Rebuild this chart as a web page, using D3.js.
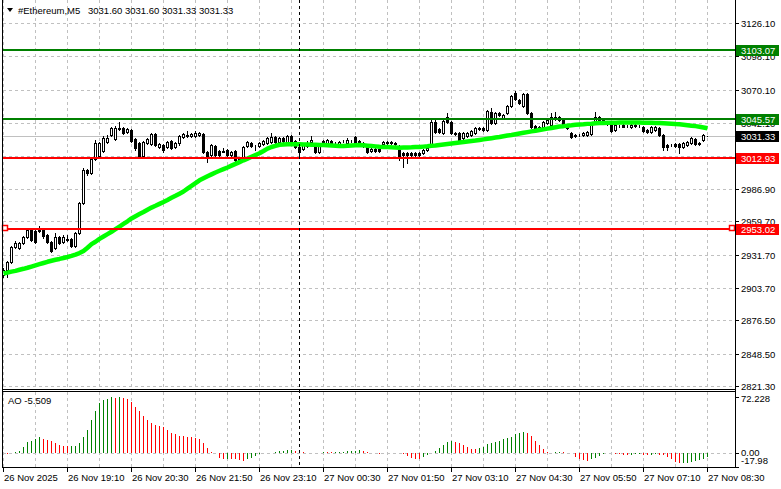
<!DOCTYPE html>
<html><head><meta charset="utf-8">
<script src="https://cdn.jsdelivr.net/npm/d3@7/dist/d3.min.js"></script>
<style>
html,body{margin:0;padding:0;background:#fff;overflow:hidden;}
svg{display:block;}
text{font-family:"Liberation Sans",Arial,sans-serif;font-size:9.5px;}
</style>
</head><body>
<svg id="chart" width="781" height="489"></svg>
<script>
// ---------------- DATA ----------------
const symbolName = "#Ethereum,M5";
const lastQuote = [3031.60, 3031.60, 3031.33, 3031.33];

const opens = [
2914.5,2918.7,2925.4,2938.0,2937.2,2941.4,2946.4,2952.3,2951.4,2951.4,
2952.3,2948.1,2942.2,2937.2,2946.4,2942.2,2944.3,2944.7,2938.9,2949.8,
2975.0,3002.7,3000.1,3011.9,3014.4,3018.6,3026.2,3032.1,3028.7,3037.9,
3037.9,3034.6,3036.2,3028.7,3025.3,3014.4,3025.3,3024.5,3032.9,3022.0,
3023.7,3022.0,3027.0,3022.0,3025.3,3030.4,3031.2,3031.2,3031.2,3032.1,
3032.9,3017.8,3015.3,3022.8,3018.6,3018.6,3019.5,3015.3,3018.6,3011.9,
3011.1,3022.8,3025.3,3022.8,3022.8,3024.5,3025.3,3026.2,3030.4,3026.2,
3029.5,3026.2,3031.2,3027.0,3022.0,3020.3,3022.8,3026.2,3022.0,3017.8,
3027.0,3024.5,3027.0,3025.3,3023.7,3027.0,3025.3,3027.0,3030.4,3027.0,
3025.3,3022.0,3018.6,3020.3,3020.3,3024.5,3025.3,3026.2,3025.3,3019.5,
3016.9,3016.9,3016.9,3016.9,3016.9,3016.9,3019.5,3024.5,3043.0,3037.1,
3033.7,3047.2,3043.0,3033.7,3033.7,3029.5,3031.2,3032.1,3033.7,3037.9,
3037.9,3036.2,3051.4,3042.1,3050.5,3046.3,3050.5,3056.4,3067.3,3061.4,
3056.4,3066.5,3050.5,3039.6,3038.8,3038.8,3042.1,3040.4,3047.2,3047.2,
3044.6,3040.4,3033.7,3032.1,3032.1,3032.1,3032.1,3032.9,3042.1,3047.2,
3044.6,3043.0,3041.3,3036.2,3039.6,3040.4,3039.6,3038.8,3040.4,3039.6,
3038.8,3036.2,3034.6,3036.2,3037.9,3032.1,3023.7,3023.7,3024.5,3024.5,
3022.0,3023.7,3025.3,3028.7,3025.3,3027.9,3031.60];

const highs = [
2920.4,2926.3,2938.9,2943.0,2942.2,2947.2,2954.0,2953.1,2952.3,2955.6,
2953.1,2948.9,2943.0,2949.8,2947.2,2948.1,2948.1,2945.6,2950.6,2975.8,
3004.3,3003.5,3013.6,3027.9,3026.2,3031.2,3032.1,3038.8,3039.6,3043.0,
3038.8,3037.9,3037.1,3029.5,3026.2,3027.0,3029.5,3033.7,3033.7,3025.3,
3024.5,3027.0,3027.9,3026.2,3032.1,3033.7,3035.4,3033.7,3035.4,3034.6,
3033.7,3018.6,3024.5,3023.7,3019.5,3021.1,3020.3,3018.6,3019.5,3012.7,
3022.8,3027.0,3026.2,3023.7,3026.2,3027.9,3030.4,3033.7,3031.2,3030.4,
3030.4,3032.1,3032.1,3027.9,3022.8,3024.5,3027.0,3031.2,3022.8,3023.7,
3027.9,3028.7,3027.9,3026.2,3027.0,3027.9,3029.5,3027.9,3031.2,3027.9,
3026.2,3022.8,3021.1,3021.1,3021.1,3027.0,3027.0,3027.0,3026.2,3023.7,
3017.8,3017.8,3017.8,3017.8,3017.8,3020.3,3022.0,3046.3,3044.6,3037.9,
3044.6,3050.5,3043.8,3034.6,3034.6,3034.6,3034.6,3036.2,3038.8,3038.8,
3038.8,3053.0,3054.7,3051.4,3051.4,3049.7,3057.2,3065.6,3069.0,3062.3,
3067.3,3067.3,3051.4,3040.4,3039.6,3043.8,3045.5,3050.5,3051.4,3048.0,
3045.5,3041.3,3034.6,3032.9,3032.9,3034.6,3035.4,3043.0,3051.4,3048.0,
3045.5,3043.8,3042.1,3041.3,3040.4,3041.3,3040.4,3041.3,3041.3,3040.4,
3039.6,3037.1,3039.6,3039.6,3038.8,3032.9,3024.5,3024.5,3025.3,3025.3,
3026.2,3027.0,3030.4,3029.5,3026.2,3032.9,3031.60];

const lows = [
2912.8,2912.8,2924.6,2937.2,2936.3,2940.5,2945.6,2943.0,2941.4,2950.6,
2945.6,2941.4,2933.8,2936.3,2940.5,2941.4,2943.0,2938.0,2938.0,2948.9,
2974.1,2998.5,2999.3,3011.1,3012.7,3017.8,3025.3,3031.2,3027.9,3036.2,
3032.9,3033.7,3026.2,3019.5,3013.6,3013.6,3024.5,3023.7,3022.8,3021.1,
3017.8,3021.1,3020.3,3021.1,3023.7,3029.5,3030.4,3030.4,3030.4,3031.2,
3016.9,3009.4,3014.4,3014.4,3014.4,3017.8,3014.4,3014.4,3010.2,3008.5,
3010.2,3022.0,3022.0,3019.5,3022.0,3023.7,3024.5,3025.3,3025.3,3025.3,
3026.2,3025.3,3025.3,3021.1,3015.3,3019.5,3022.0,3025.3,3016.9,3016.9,
3023.7,3023.7,3022.8,3024.5,3022.8,3026.2,3024.5,3026.2,3024.5,3024.5,
3022.0,3016.9,3017.8,3017.8,3017.8,3023.7,3024.5,3024.5,3023.7,3011.1,
3005.2,3008.5,3014.4,3014.4,3014.4,3016.1,3018.6,3023.7,3033.7,3033.7,
3032.9,3042.1,3032.9,3032.1,3027.0,3028.7,3030.4,3031.2,3032.9,3036.2,
3035.4,3035.4,3041.3,3041.3,3048.0,3045.5,3049.7,3055.6,3061.4,3058.1,
3055.6,3049.7,3037.9,3035.4,3035.4,3037.9,3041.3,3039.6,3044.6,3043.8,
3039.6,3037.1,3029.5,3030.4,3031.2,3031.2,3031.2,3032.1,3041.3,3043.0,
3041.3,3040.4,3034.6,3035.4,3038.8,3038.8,3038.8,3037.9,3038.8,3038.8,
3034.6,3033.7,3033.7,3035.4,3031.2,3019.5,3019.5,3022.8,3022.0,3016.9,
3021.1,3022.8,3024.5,3023.7,3023.7,3027.0,3031.33];

const closes = [
2918.7,2925.4,2938.0,2941.4,2941.4,2946.4,2952.3,2943.9,2942.2,2952.3,
2947.2,2942.2,2934.6,2946.4,2941.4,2946.4,2944.7,2938.9,2949.8,2975.0,
3002.7,3000.1,3011.9,3025.3,3025.3,3029.5,3029.5,3037.9,3037.9,3037.5,
3033.7,3037.1,3027.0,3021.1,3014.4,3026.2,3028.7,3032.9,3023.7,3024.5,
3019.5,3026.2,3021.1,3025.3,3031.2,3032.9,3032.1,3032.9,3033.7,3033.7,
3017.8,3013.6,3023.7,3015.3,3015.3,3018.2,3015.3,3017.8,3011.1,3009.4,
3022.0,3026.2,3022.8,3022.9,3025.3,3027.0,3029.5,3030.4,3026.2,3029.5,
3027.0,3031.2,3026.2,3022.0,3017.8,3023.7,3025.3,3027.9,3017.8,3022.8,
3024.5,3027.9,3023.7,3025.4,3026.2,3027.1,3027.9,3026.9,3025.3,3025.3,
3022.8,3017.8,3020.3,3018.6,3018.6,3026.2,3026.2,3025.3,3024.5,3014.4,
3015.3,3015.3,3015.3,3015.3,3015.3,3019.5,3021.1,3043.0,3034.6,3034.6,
3043.8,3043.0,3033.7,3032.9,3027.9,3033.7,3033.7,3035.4,3037.9,3037.1,
3036.2,3052.2,3042.1,3050.5,3048.8,3048.8,3056.4,3064.8,3062.3,3058.9,
3066.5,3050.5,3038.8,3036.2,3036.2,3043.0,3044.6,3047.2,3045.5,3044.6,
3040.4,3037.9,3030.4,3031.2,3032.0,3033.7,3034.6,3042.1,3047.2,3043.8,
3042.1,3041.3,3035.4,3040.4,3039.7,3038.8,3039.6,3040.4,3039.6,3039.5,
3035.4,3034.6,3038.8,3038.8,3032.1,3022.0,3022.0,3023.6,3022.8,3022.0,
3025.3,3026.2,3029.5,3024.5,3024.5,3032.1,3031.33];

const maValues = [
2915.8,2916.5,2917.3,2918.0,2918.9,2919.7,2920.6,2921.6,2922.6,2923.6,
2924.6,2925.6,2926.5,2927.3,2928.0,2928.8,2929.6,2930.5,2931.6,2932.9,
2934.6,2937.4,2940.4,2942.4,2944.8,2946.8,2948.8,2950.8,2953.0,2955.2,
2957.4,2959.6,2962.0,2963.9,2965.7,2967.4,2969.3,2971.1,2972.6,2974.2,
2975.8,2977.5,2979.3,2981.0,2982.8,2984.6,2987.0,2989.3,2991.6,2994.0,
2995.7,2997.4,2999.0,3000.6,3002.0,3003.4,3004.8,3006.3,3007.8,3009.3,
3010.8,3012.2,3013.8,3015.3,3016.7,3018.6,3020.6,3022.0,3023.0,3023.9,
3024.1,3024.2,3024.2,3024.2,3024.2,3024.1,3024.0,3023.9,3023.8,3023.7,
3023.6,3023.4,3023.2,3023.0,3022.8,3022.9,3023.1,3023.3,3023.5,3023.7,
3023.4,3023.1,3022.8,3022.5,3022.2,3022.0,3021.9,3021.7,3021.6,3021.4,
3021.5,3021.6,3021.7,3021.9,3022.0,3022.3,3022.6,3023.0,3023.3,3023.7,
3024.1,3024.5,3024.9,3025.3,3025.7,3026.1,3026.6,3027.0,3027.4,3027.9,
3028.4,3028.9,3029.4,3029.9,3030.4,3031.0,3031.6,3032.1,3032.7,3033.3,
3033.9,3034.5,3035.1,3035.6,3036.2,3036.8,3037.4,3038.0,3038.6,3039.2,
3039.5,3039.9,3040.2,3040.6,3040.9,3041.1,3041.4,3041.6,3041.9,3042.1,
3042.2,3042.3,3042.3,3042.4,3042.5,3042.5,3042.5,3042.5,3042.5,3042.5,
3042.4,3042.3,3042.3,3042.2,3042.1,3041.9,3041.7,3041.5,3041.2,3041.0,
3040.7,3040.3,3039.9,3039.5,3039.0,3038.4,3037.7];

const aoValues = [
-0.9,-1.7,-0.4,0.4,2.2,7.7,14.2,15.5,17.2,19.4,
18.1,16.3,15.1,12.9,9.9,8.6,8.5,8.7,8.8,12.0,
19.4,29.2,41.3,53.8,63.6,67.9,69.2,71.4,70.9,72.228,
70.9,68.8,64.5,59.3,53.8,47.7,42.1,37.8,35.7,34.4,
33.5,29.2,25.8,23.7,21.5,21.4,20.6,19.8,18.5,17.2,
12.9,6.5,1.3,-0.1,-7.3,-8.2,-8.0,-8.3,-8.6,-9.5,
-10.3,-8.2,-7.3,-4.3,-1.7,-0.9,-1.0,-0.4,0.2,1.7,
2.2,3.0,3.4,2.2,0.9,0.1,-0.4,-0.9,-1.0,-0.5,
0.5,0.3,0.1,0.3,0.7,1.2,1.7,2.1,2.6,3.4,
2.2,1.3,0.0,-0.9,-1.7,-0.9,-0.4,-0.3,-0.5,-0.8,
-1.7,-4.3,-7.3,-8.2,-8.4,-6.0,-3.0,-0.4,2.2,5.6,
9.9,14.2,15.5,14.2,12.0,9.9,7.7,4.7,4.5,5.6,
7.7,10.8,12.9,14.2,15.5,17.2,18.5,20.6,24.1,25.8,
27.1,24.9,21.5,15.5,9.9,4.3,0.1,0.05,0.6,0.9,
0.2,0.0,-0.4,-5.2,-8.2,-9.5,-10.3,-8.6,-6.5,-4.3,
-1.7,-0.9,-0.4,-1.7,-2.2,-2.6,-3.0,-2.6,-2.5,-2.2,
-2.6,-3.0,-2.6,-2.2,-2.6,-3.4,-5.2,-7.7,-11.6,-13.8,
-13.7,-12.9,-11.6,-10.8,-9.5,-8.2,-5.509];

const timeLabels = ["26 Nov 2025","26 Nov 19:10","26 Nov 20:30","26 Nov 21:50","26 Nov 23:10",
  "27 Nov 00:30","27 Nov 01:50","27 Nov 03:10","27 Nov 04:30","27 Nov 05:50","27 Nov 07:10","27 Nov 08:30"];
const priceTicks = [3126.10,3098.10,3070.10,3042.10,3014.50,2986.90,2959.70,2931.70,2903.70,2876.50,2848.50,2821.30];
const resistanceLevels = [3103.07, 3045.57];
const supportLevels = [3012.93, 2953.02];
const currentPrice = 3031.33;
const aoScaleLabels = [72.228, 0.00, -17.98];
const aoLast = -5.509;
const daySeparatorBar = 74;   // 27 Nov 00:00
const barsPerLabel = 16, barsPerGrid = 8;

// ---------------- LAYOUT ----------------
const n = closes.length;
const svg = d3.select("#chart");
const L = 3, R = 735, mainTop = 0, mainBot = 389, aoTop = 392, aoBot = 467;
const x = d3.scaleLinear().domain([0, n - 1]).range([3, 707]);
const y = d3.scaleLinear().domain([2821.3, 3126.1]).range([386, 23]);
const ya = d3.scaleLinear().domain([-17.98, 72.228]).range([466.5, 396.5]);
const px = i => Math.round(x(i));
const GREEN = "#008000", RED = "#ff0000", GRID = "#c0c0c0";

const defs = svg.append("defs");
defs.append("clipPath").attr("id","cm").append("rect").attr("x",L).attr("y",mainTop).attr("width",R-L).attr("height",mainBot-mainTop);
defs.append("clipPath").attr("id","ca").append("rect").attr("x",L).attr("y",aoTop).attr("width",R-L).attr("height",aoBot-aoTop);

const main = svg.append("g").attr("clip-path","url(#cm)");
const ao = svg.append("g").attr("clip-path","url(#ca)");

// grid: horizontal
main.selectAll("line.hg").data(priceTicks).join("line")
  .attr("x1",L).attr("x2",R).attr("y1",d=>Math.round(y(d))+0.5).attr("y2",d=>Math.round(y(d))+0.5)
  .attr("stroke",GRID).attr("stroke-dasharray","3,3").attr("shape-rendering","crispEdges");
// grid: vertical
const gridBars = d3.range(0, n, barsPerGrid);
[main, ao].forEach((g, k) => {
  g.selectAll("line.vg").data(gridBars).join("line")
    .attr("x1",d=>px(d)+0.5).attr("x2",d=>px(d)+0.5)
    .attr("y1",k===0?mainTop:aoTop).attr("y2",k===0?mainBot:aoBot)
    .attr("stroke",GRID).attr("stroke-dasharray","3,3").attr("shape-rendering","crispEdges");
});
// AO zero line
ao.append("line").attr("x1",L).attr("x2",R).attr("y1",Math.round(ya(0))+0.5).attr("y2",Math.round(ya(0))+0.5)
  .attr("stroke",GRID).attr("stroke-dasharray","3,3");

// current price line
main.append("line").attr("x1",L).attr("x2",R)
  .attr("y1",Math.round(y(currentPrice))+0.5).attr("y2",Math.round(y(currentPrice))+0.5)
  .attr("stroke",GRID).attr("shape-rendering","crispEdges");

// candles
const idx = d3.range(n);
const cg = main.append("g").attr("shape-rendering","crispEdges");
cg.selectAll("line.w").data(idx).join("line")
  .attr("x1",i=>px(i)+0.5).attr("x2",i=>px(i)+0.5)
  .attr("y1",i=>Math.round(y(highs[i]))).attr("y2",i=>Math.round(y(lows[i]))+1)
  .attr("stroke","#000");
cg.selectAll("rect.b").data(idx).join("rect")
  .attr("x",i=>px(i)-0.5).attr("width",2)
  .attr("y",i=>Math.round(y(Math.max(opens[i],closes[i])))+0.5)
  .attr("height",i=>Math.round(y(Math.min(opens[i],closes[i]))) - Math.round(y(Math.max(opens[i],closes[i]))))
  .attr("fill",i=>closes[i]>=opens[i]?"#fff":"#000").attr("stroke","#000");

// moving average
main.append("path").datum(maValues)
  .attr("d", d3.line().x((d,i)=>x(i)+0.5).y(d=>y(d)))
  .attr("fill","none").attr("stroke","#00ff00").attr("stroke-width",4.5).attr("stroke-linejoin","round");

// level lines
const lvls = resistanceLevels.map(v=>({v,c:GREEN})).concat(supportLevels.map(v=>({v,c:RED})));
main.selectAll("line.lv").data(lvls).join("line")
  .attr("x1",L).attr("x2",R).attr("y1",d=>Math.round(y(d.v))).attr("y2",d=>Math.round(y(d.v)))
  .attr("stroke",d=>d.c).attr("stroke-width",2).attr("shape-rendering","crispEdges");
// anchor markers on the selected support line
const sel = supportLevels[1];
[5, 732].forEach(mx => {
  svg.append("rect").attr("x",mx-2.5).attr("y",Math.round(y(sel))-3.5).attr("width",5).attr("height",5)
    .attr("fill","#fff").attr("stroke",RED).attr("stroke-width",1.5);
});

// day separator
svg.append("line").attr("x1",px(daySeparatorBar)+0.5).attr("x2",px(daySeparatorBar)+0.5)
  .attr("y1",mainTop).attr("y2",aoBot).attr("stroke","#000").attr("stroke-dasharray","3,3")
  .attr("shape-rendering","crispEdges");

// AO histogram
ao.selectAll("line.ao").data(idx).join("line")
  .attr("x1",i=>px(i)+0.5).attr("x2",i=>px(i)+0.5)
  .attr("y1",Math.round(ya(0))).attr("y2",i=>Math.round(ya(aoValues[i])))
  .attr("stroke",i=>(i>0 && aoValues[i]>aoValues[i-1])?GREEN:RED)
  .attr("shape-rendering","crispEdges");

// frames
const frame = svg.append("g").attr("stroke","#000").attr("shape-rendering","crispEdges");
frame.append("line").attr("x1",L-0.5).attr("x2",L-0.5).attr("y1",0).attr("y2",aoBot+1);
frame.append("line").attr("x1",R+0.5).attr("x2",R+0.5).attr("y1",0).attr("y2",aoBot+1);
frame.append("line").attr("x1",L-1).attr("x2",R+1).attr("y1",mainBot+0.5).attr("y2",mainBot+0.5);
frame.append("line").attr("x1",L-1).attr("x2",R+1).attr("y1",aoTop-0.5).attr("y2",aoTop-0.5);
frame.append("line").attr("x1",L-1).attr("x2",R+1).attr("y1",aoBot+0.5).attr("y2",aoBot+0.5);

// price axis
const pax = svg.append("g");
pax.selectAll("line").data(priceTicks).join("line")
  .attr("x1",R).attr("x2",R+4).attr("y1",d=>Math.round(y(d))+0.5).attr("y2",d=>Math.round(y(d))+0.5)
  .attr("stroke","#000").attr("shape-rendering","crispEdges");
pax.selectAll("text").data(priceTicks).join("text")
  .attr("x",R+6).attr("y",d=>y(d)+4).attr("fill","#000").text(d=>d.toFixed(2));

// price labels (boxes)
const boxes = lvls.map(d=>({v:d.v,bg:d.c})).concat([{v:currentPrice,bg:"#000"}]);
const bg = svg.append("g");
boxes.forEach(b => {
  const cy = y(b.v);
  bg.append("rect").attr("x",R+1).attr("y",Math.round(cy)-5).attr("width",43).attr("height",11).attr("fill",b.bg);
  bg.append("text").attr("x",R+6).attr("y",cy+4).attr("fill","#fff").text(b.v.toFixed(2));
});

// AO axis
svg.selectAll("text.aol").data(aoScaleLabels).join("text")
  .attr("x",R+6).attr("y",(d,i)=> i===0 ? ya(d)+5.5 : (i===1 ? ya(d)+3.5 : ya(d)-3))
  .attr("fill","#000").text(d=>Number.isInteger(d*100)&&d===0?"0.00":String(d));
svg.selectAll("line.aot").data([aoScaleLabels[0], aoScaleLabels[1], aoScaleLabels[2]]).join("line")
  .attr("x1",R).attr("x2",R+4).attr("y1",d=>Math.round(ya(d))+0.5).attr("y2",d=>Math.round(ya(d))+0.5)
  .attr("stroke","#000").attr("shape-rendering","crispEdges");

// time axis
const tx = svg.append("g");
tx.selectAll("line").data(timeLabels).join("line")
  .attr("x1",(d,k)=>px(k*barsPerLabel)+0.5).attr("x2",(d,k)=>px(k*barsPerLabel)+0.5)
  .attr("y1",aoBot+1).attr("y2",aoBot+5).attr("stroke","#000").attr("shape-rendering","crispEdges");
tx.selectAll("text").data(timeLabels).join("text")
  .attr("x",(d,k)=>px(k*barsPerLabel)+1).attr("y",481).attr("fill","#000").text(d=>d);

// title
svg.append("path").attr("d","M7,8 L13,8 L10,12 Z").attr("fill","#000");
svg.append("text").attr("x",18).attr("y",14).attr("fill","#000").text(symbolName);
svg.append("text").attr("x",88).attr("y",14).attr("fill","#000").text(lastQuote.map(v=>v.toFixed(2)).join(" "));
svg.append("text").attr("x",8).attr("y",404).attr("fill","#000").text("AO " + aoLast.toFixed(3));
</script>
</body></html>
